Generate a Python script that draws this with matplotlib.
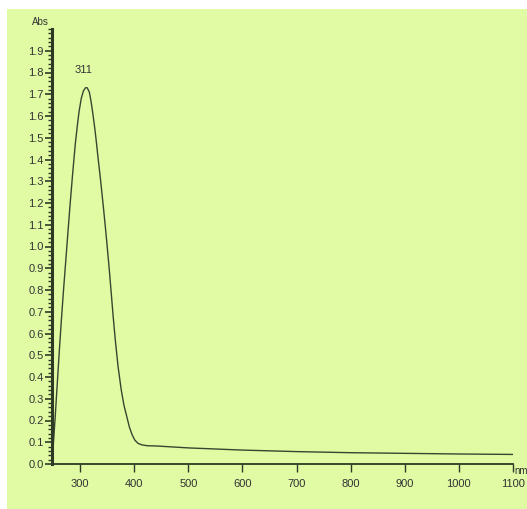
import matplotlib
matplotlib.use("Agg")
import matplotlib.pyplot as plt
from matplotlib.patches import Rectangle
from matplotlib.ticker import MultipleLocator, FormatStrFormatter

plt.rcParams['font.family'] = ['Liberation Sans Narrow', 'Liberation Sans', 'DejaVu Sans']

## spectrum
wavelength = [248, 251, 254, 257, 261, 265, 269, 273, 277, 281, 286, 291, 295,
              298, 302, 306, 310, 313, 317, 320, 323, 327, 330, 333, 338, 343,
              347, 350, 354, 357, 361, 365, 370, 376, 381, 387, 391, 396, 401,
              407, 414, 424, 440, 460, 500, 600, 700, 800, 900, 1000, 1100]
absorbance = [0.0, 0.11, 0.22, 0.34, 0.50, 0.65, 0.79, 0.92, 1.05, 1.18, 1.33,
              1.47, 1.56, 1.62, 1.68, 1.715, 1.73, 1.73, 1.71, 1.67, 1.62,
              1.545, 1.48, 1.41, 1.30, 1.18, 1.08, 1.00, 0.89, 0.80, 0.68, 0.57,
              0.45, 0.34, 0.27, 0.21, 0.17, 0.135, 0.11, 0.095, 0.088, 0.084,
              0.083, 0.080, 0.074, 0.064, 0.057, 0.052, 0.049, 0.046, 0.044]
peak_label = '311'
peak_label_nm = 307
peak_abs = 1.73
x_ticks = [300, 400, 500, 600, 700, 800, 900, 1000, 1100]

W, H = 527, 509
fig = plt.figure(figsize=(W / 100, H / 100), dpi=100)
fig.patch.set_facecolor('white')
green = '#e0fba4'
fig.patches.append(Rectangle((7 / W, 0), 1 - 7 / W, 1 - 9 / H,
                             transform=fig.transFigure, facecolor=green,
                             edgecolor='none', zorder=-10))

ax = fig.add_axes([52 / W, 45 / H, (513 - 52) / W, (464 - 29) / H])
ax.patch.set_alpha(0)

ax.plot(wavelength, absorbance, color='#3a4530', lw=1.0)
ax.set_xlim(248, 1100)
ax.set_ylim(0, 2.0)

ink = '#2f3a25'
for s in ['top', 'right']:
    ax.spines[s].set_visible(False)
ax.spines['left'].set_linewidth(2.2)
ax.spines['left'].set_color(ink)
ax.spines['bottom'].set_linewidth(1.3)
ax.spines['bottom'].set_color(ink)

ax.set_xticks(x_ticks)
ax.yaxis.set_minor_locator(MultipleLocator(0.02))
ax.yaxis.set_major_formatter(FormatStrFormatter('%.1f'))
ax.set_yticks([i / 10 for i in range(20)])
ax.tick_params(axis='y', which='major', length=5, width=1.2, color=ink,
               labelsize=8, labelcolor='#333333', pad=1)
ax.tick_params(axis='y', which='minor', length=3, width=1.0, color=ink)
ax.tick_params(axis='x', which='major', length=6, width=1.0, color=ink,
               labelsize=8, labelcolor='#333333', pad=5)

ax.text(peak_label_nm, peak_abs + 0.06, peak_label, ha='center', va='bottom',
        fontsize=8, color='#333333')
fig.text(40 / W, 1 - 22 / H, 'Abs', ha='center', va='center', fontsize=7,
         color='#333333')
fig.text(514 / W, 1 - 471 / H, 'nm', ha='left', va='center', fontsize=7,
         color='#333333')

fig.savefig('out.png', dpi=100, facecolor=fig.get_facecolor())
